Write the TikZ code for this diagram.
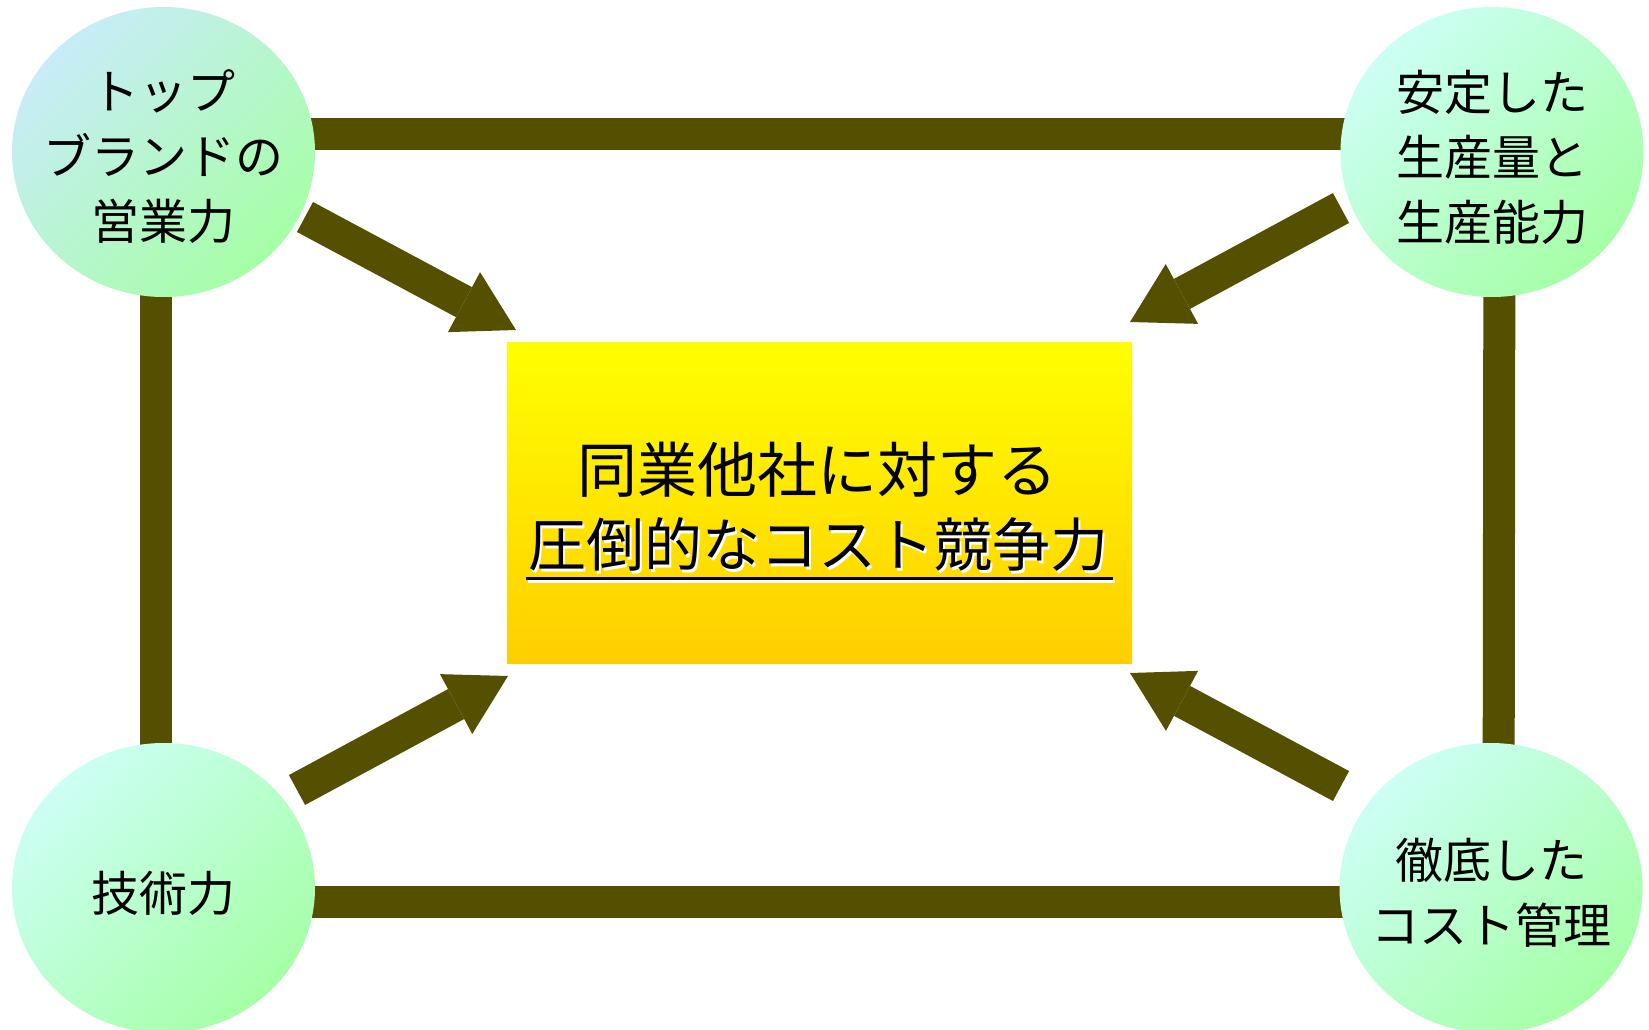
\documentclass[tikz,border=0pt]{standalone}
\usepackage{fontspec}
\setmainfont{Noto Sans CJK JP}
\usetikzlibrary{positioning, backgrounds, shapes.geometric, arrows.meta}

\definecolor{barolive}{RGB}{84,80,0}
\definecolor{ballblue}{RGB}{200,236,248}
\definecolor{ballcyan}{RGB}{204,255,245}
\definecolor{ballgreen}{RGB}{166,255,166}
\definecolor{goalyellow}{RGB}{255,255,0}
\definecolor{goalgold}{RGB}{255,206,0}

\newcommand{\embossed}[1]{\makebox[0pt][l]{\raisebox{-2.5pt}{\hspace*{2.5pt}\color{white}#1}}#1}

\tikzset{
  ball/.style={ellipse, minimum width=303pt, minimum height=290pt, inner sep=0pt,
    top color=#1, bottom color=ballgreen, shading angle=45},
  ball/.default=ballcyan,
  balltext/.style={align=center, font=\fontsize{48}{65}\selectfont, yshift=-5pt},
  bar/.style={barolive, line width=32pt},
  push/.style={barolive, line width=34pt, -{Triangle[length=59pt, width=68pt, line width=0pt]}},
  goalbox/.style={rectangle, minimum width=625pt, minimum height=321pt, inner sep=0pt,
    top color=goalyellow, bottom color=goalgold},
  goaltext/.style={inner sep=0pt, font=\fontsize{58}{70}\selectfont},
}

\begin{document}
\begin{tikzpicture}[x=1pt, y=-1pt]
    \useasboundingbox (0,0) rectangle (1649,1030);

    \node[ball=ballblue, label={[balltext]center:{トップ\\ブランドの\\営業力}}] (brand) at (163.5,152) {};
    \node[ball, label={[balltext]center:{安定した\\生産量と\\生産能力}}] (capacity) at (1492,152) {};
    \node[ball, label={[balltext]center:{技術力}}] (tech) at (163.5,888) {};
    \node[ball, label={[balltext]center:{徹底した\\コスト管理}}] (costctl) at (1491,888) {};

    \begin{scope}[on background layer]
        \draw[bar] ([yshift=18pt]brand.center) -- ([yshift=18pt]capacity.center);
        \draw[bar] ([yshift=-14pt]tech.center) -- ([yshift=-14pt]costctl.center);
        \draw[bar] ([xshift=-8pt]brand.center) -- ([xshift=-8pt]tech.center);
        \draw[bar] ([xshift=7.5pt]capacity.center) -- ([xshift=7.5pt]costctl.center);
    \end{scope}

    \node[goalbox] (goal) at (819.5,502.5) {};
    \node[goaltext, font=\fontsize{60}{70}\selectfont] (goalhead) at (817,470) {同業他社に対する};
    \node[goaltext] (goalclaim) at (818,546) {\embossed{圧倒的なコスト競争力}};
    \draw[white, line width=3pt] ([xshift=0pt, yshift=-7pt]goalclaim.south west) -- ([xshift=7pt, yshift=-7pt]goalclaim.south east);
    \draw[black, line width=3pt] ([xshift=-2pt, yshift=-4pt]goalclaim.south west) -- ([xshift=5pt, yshift=-4pt]goalclaim.south east);

    % arrows into the goal
    \coordinate (brandout) at (305,217);
    \coordinate (capacityout) at (1341,208);
    \coordinate (techout) at (297,790);
    \coordinate (costctlout) at (1341,786);
    \coordinate (goalnw) at (516,330);
    \coordinate (goalne) at (1130,322);
    \coordinate (goalsw) at (508,676);
    \coordinate (goalse) at (1130,673);

    \draw[push] (brandout) -- (goalnw);
    \draw[push] (capacityout) -- (goalne);
    \draw[push] (techout) -- (goalsw);
    \draw[push] (costctlout) -- (goalse);
\end{tikzpicture}
\end{document}
